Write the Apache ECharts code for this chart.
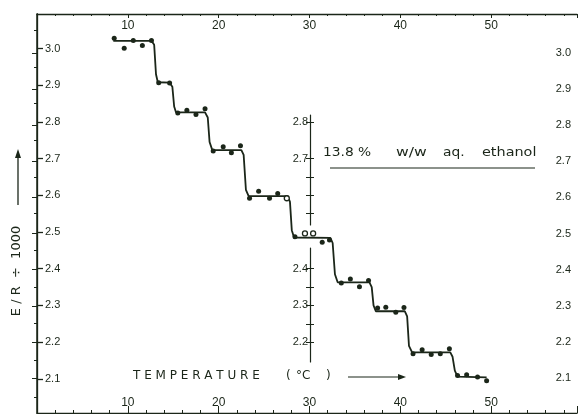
<!DOCTYPE html>
<html><head><meta charset="utf-8">
<script src="https://cdn.jsdelivr.net/npm/echarts@6/dist/echarts.min.js"></script>
<style>html,body{margin:0;padding:0;background:#fff}#c{width:580px;height:414px}</style>
</head><body><div id="c"></div>
<script>
// measured points (temperature °C, E/R ÷ 1000)
const tempFilled = [8.5, 9.6, 10.6, 11.6, 12.6, 13.4, 14.6, 15.5, 16.5, 17.5, 18.5, 19.4, 20.5, 21.4, 22.4, 23.4, 24.4, 25.6, 26.5, 28.4, 31.4, 32.2, 33.5, 34.5, 35.5, 36.5, 37.5, 38.4, 39.5, 40.4, 41.4, 42.4, 43.4, 44.4, 45.4, 46.3, 47.3, 48.5, 49.5];
const valFilled  = [3.028, 3.001, 3.022, 3.008, 3.022, 2.907, 2.906, 2.824, 2.832, 2.820, 2.836, 2.721, 2.732, 2.716, 2.735, 2.592, 2.611, 2.592, 2.605, 2.487, 2.472, 2.478, 2.361, 2.372, 2.351, 2.368, 2.293, 2.295, 2.281, 2.294, 2.168, 2.179, 2.166, 2.168, 2.182, 2.109, 2.111, 2.105, 2.095];
const tempOpen = [27.5, 29.5, 30.4];
const valOpen  = [2.592, 2.496, 2.496];
// stepped fitted curve vertices
const stepT = [8.4, 12.6, 12.9, 13.1, 13.3, 14.6, 14.9, 15.1, 15.3, 18.5, 18.8, 19.0, 19.3, 22.5, 22.75, 23.0, 23.3, 27.6, 27.85, 28.05, 28.3, 32.3, 32.55, 32.8, 33.1, 36.6, 36.85, 37.05, 37.3, 40.5, 40.75, 40.95, 41.3, 45.5, 45.75, 46.0, 46.3, 49.5];
const stepV = [3.021, 3.021, 3.010, 2.930, 2.908, 2.907, 2.896, 2.842, 2.826, 2.826, 2.812, 2.745, 2.723, 2.723, 2.710, 2.615, 2.598, 2.598, 2.582, 2.505, 2.485, 2.484, 2.470, 2.385, 2.363, 2.363, 2.350, 2.300, 2.284, 2.284, 2.270, 2.190, 2.172, 2.172, 2.160, 2.122, 2.106, 2.104];
// tick labels
const xLabels = [10, 20, 30, 40, 50];
const yLabels = [2.1, 2.2, 2.3, 2.4, 2.5, 2.6, 2.7, 2.8, 2.9, 3.0];
const yMinor = [2.05, 2.15, 2.25, 2.35, 2.45, 2.55, 2.65, 2.75, 2.85, 2.95, 3.05];
const insetUpperLabels = [2.7, 2.8];
const insetUpperTicks = [2.55, 2.6, 2.65, 2.7, 2.8];
const insetLowerLabels = [2.2, 2.3, 2.4];
const insetLowerTicks = [2.2, 2.25, 2.3, 2.35, 2.4];

const ink = '#1b2619';
const font = 'Liberation Sans';
const fmt = v => v.toFixed(1);
const hiddenX = gi => ({gridIndex: gi, show: false, min: 0, max: 1, type: 'value'});
const xFmt = v => xLabels.includes(Math.round(v)) && Math.abs(v - Math.round(v)) < 1e-6 ? String(Math.round(v)) : '';
const tfont = '12px "DejaVu Sans"';

const chart = echarts.init(document.getElementById('c'));
chart.setOption({
  backgroundColor: '#ffffff',
  animation: false,
  grid: [
    {left: 37, top: 14, width: 541, height: 399},
    {left: 37, top: 14, width: 541, height: 399},
    {left: 310, top: 115, width: 1, height: 110},
    {left: 310, top: 248, width: 1, height: 114}
  ],
  xAxis: [
    {gridIndex: 0, type: 'value', position: 'bottom', min: 0, max: 59.45, interval: 10,
     axisLine: {lineStyle: {color: ink, width: 1.3}},
     axisTick: {inside: true, length: 7, lineStyle: {color: ink}},
     minorTick: {show: true, splitNumber: 5, length: 3, lineStyle: {color: ink}},
     axisLabel: {inside: true, color: ink, fontFamily: font, fontSize: 12, margin: 4, formatter: xFmt},
     splitLine: {show: false}},
    {gridIndex: 0, type: 'value', position: 'top', min: 0, max: 59.45, interval: 10,
     axisLine: {lineStyle: {color: ink, width: 1.3}},
     axisTick: {inside: true, length: 4, lineStyle: {color: ink}},
     minorTick: {show: true, splitNumber: 5, length: 2, lineStyle: {color: ink}},
     axisLabel: {inside: true, color: ink, fontFamily: font, fontSize: 12, margin: 6, formatter: xFmt},
     splitLine: {show: false}},
    hiddenX(1), hiddenX(2), hiddenX(3)
  ],
  yAxis: [
    {gridIndex: 0, type: 'value', position: 'left', min: 2.0068, max: 3.094,
     axisLine: {show: true, lineStyle: {color: ink, width: 1.5}},
     axisTick: {show: true, inside: true, length: 6, customValues: yLabels, lineStyle: {color: ink, width: 1.3}},
     axisLabel: {inside: true, customValues: yLabels, formatter: fmt, color: ink, fontFamily: font, fontSize: 11, margin: 8},
     splitLine: {show: false}},
    {gridIndex: 0, type: 'value', position: 'left', min: 2.0068, max: 3.094,
     axisLine: {show: false},
     axisTick: {show: true, inside: false, length: 3, customValues: yMinor, lineStyle: {color: ink}},
     axisLabel: {show: false},
     splitLine: {show: false}},
    {gridIndex: 1, type: 'value', position: 'right', min: 2.003, max: 3.108,
     axisLine: {show: true, lineStyle: {color: ink, width: 1.3}},
     axisTick: {show: true, inside: true, length: 5, customValues: yLabels, lineStyle: {color: ink}},
     axisLabel: {inside: true, customValues: yLabels, formatter: fmt, color: ink, fontFamily: font, fontSize: 11, margin: 7},
     splitLine: {show: false}},
    {gridIndex: 2, type: 'value', position: 'left', min: 2.5191, max: 2.8188,
     axisLine: {show: true, lineStyle: {color: ink, width: 1.2}},
     axisTick: {show: true, length: 4, customValues: insetUpperTicks, lineStyle: {color: ink}},
     axisLabel: {customValues: insetUpperLabels, formatter: fmt, color: ink, fontFamily: font, fontSize: 11, margin: 2},
     splitLine: {show: false}},
    {gridIndex: 2, type: 'value', position: 'right', min: 2.5191, max: 2.8188,
     axisLine: {show: false},
     axisTick: {show: true, length: 3, customValues: insetUpperTicks, lineStyle: {color: ink}},
     axisLabel: {show: false}, splitLine: {show: false}},
    {gridIndex: 3, type: 'value', position: 'left', min: 2.1458, max: 2.4564,
     axisLine: {show: true, lineStyle: {color: ink, width: 1.2}},
     axisTick: {show: true, length: 4, customValues: insetLowerTicks, lineStyle: {color: ink}},
     axisLabel: {customValues: insetLowerLabels, formatter: fmt, color: ink, fontFamily: font, fontSize: 11, margin: 2},
     splitLine: {show: false}},
    {gridIndex: 3, type: 'value', position: 'right', min: 2.1458, max: 2.4564,
     axisLine: {show: false},
     axisTick: {show: true, length: 3, customValues: insetLowerTicks, lineStyle: {color: ink}},
     axisLabel: {show: false}, splitLine: {show: false}}
  ],
  series: [
    {type: 'line', xAxisIndex: 0, yAxisIndex: 0, data: stepT.map((t, i) => [t, stepV[i]]),
     showSymbol: false, smooth: false, lineStyle: {color: ink, width: 1.8}, z: 2},
    {type: 'scatter', xAxisIndex: 0, yAxisIndex: 0, data: tempFilled.map((t, i) => [t, valFilled[i]]),
     symbol: 'circle', symbolSize: 5, itemStyle: {color: ink, opacity: 1}, z: 3},
    {type: 'scatter', xAxisIndex: 0, yAxisIndex: 0, data: tempOpen.map((t, i) => [t, valOpen[i]]),
     symbol: 'circle', symbolSize: 5, itemStyle: {color: '#ffffff', borderColor: ink, borderWidth: 1.3, opacity: 1}, z: 3}
  ],
  graphic: [
    {type: 'text', x: 323, y: 147, scaleX: 1.15, style: {text: '13.8 %', fill: ink, font: tfont}},
    {type: 'text', x: 396, y: 147, scaleX: 1.3, style: {text: 'w/w', fill: ink, font: tfont}},
    {type: 'text', x: 443, y: 147, scaleX: 1.15, style: {text: 'aq.', fill: ink, font: tfont}},
    {type: 'text', x: 482, y: 147, scaleX: 1.2, style: {text: 'ethanol', fill: ink, font: tfont}},
    {type: 'line', shape: {x1: 330, y1: 168, x2: 535, y2: 168}, style: {stroke: ink, lineWidth: 1.2}},
    {type: 'text', x: 133, y: 370, style: {text: 'T E M P E R A T U R E', fill: ink, font: '12px "DejaVu Sans"'}},
    {type: 'text', x: 286, y: 370, style: {text: '(', fill: ink, font: '12px "DejaVu Sans"'}},
    {type: 'text', x: 296, y: 370, style: {text: '°C', fill: ink, font: '12px "DejaVu Sans"'}},
    {type: 'text', x: 326, y: 370, style: {text: ')', fill: ink, font: '12px "DejaVu Sans"'}},
    {type: 'line', shape: {x1: 348, y1: 377, x2: 400, y2: 377}, style: {stroke: ink, lineWidth: 1.2}},
    {type: 'polygon', shape: {points: [[406, 377], [398, 374], [398, 380]]}, style: {fill: ink}},
    {type: 'text', x: 17, y: 271, rotation: Math.PI / 2,
     style: {text: 'E / R  ÷  1000', fill: ink, font: '13px "DejaVu Sans"', align: 'center', verticalAlign: 'middle'}},
    {type: 'line', shape: {x1: 18, y1: 205, x2: 18, y2: 156}, style: {stroke: ink, lineWidth: 1.3}},
    {type: 'polygon', shape: {points: [[18, 149], [15, 158], [21, 158]]}, style: {fill: ink}}
  ]
});
</script></body></html>
